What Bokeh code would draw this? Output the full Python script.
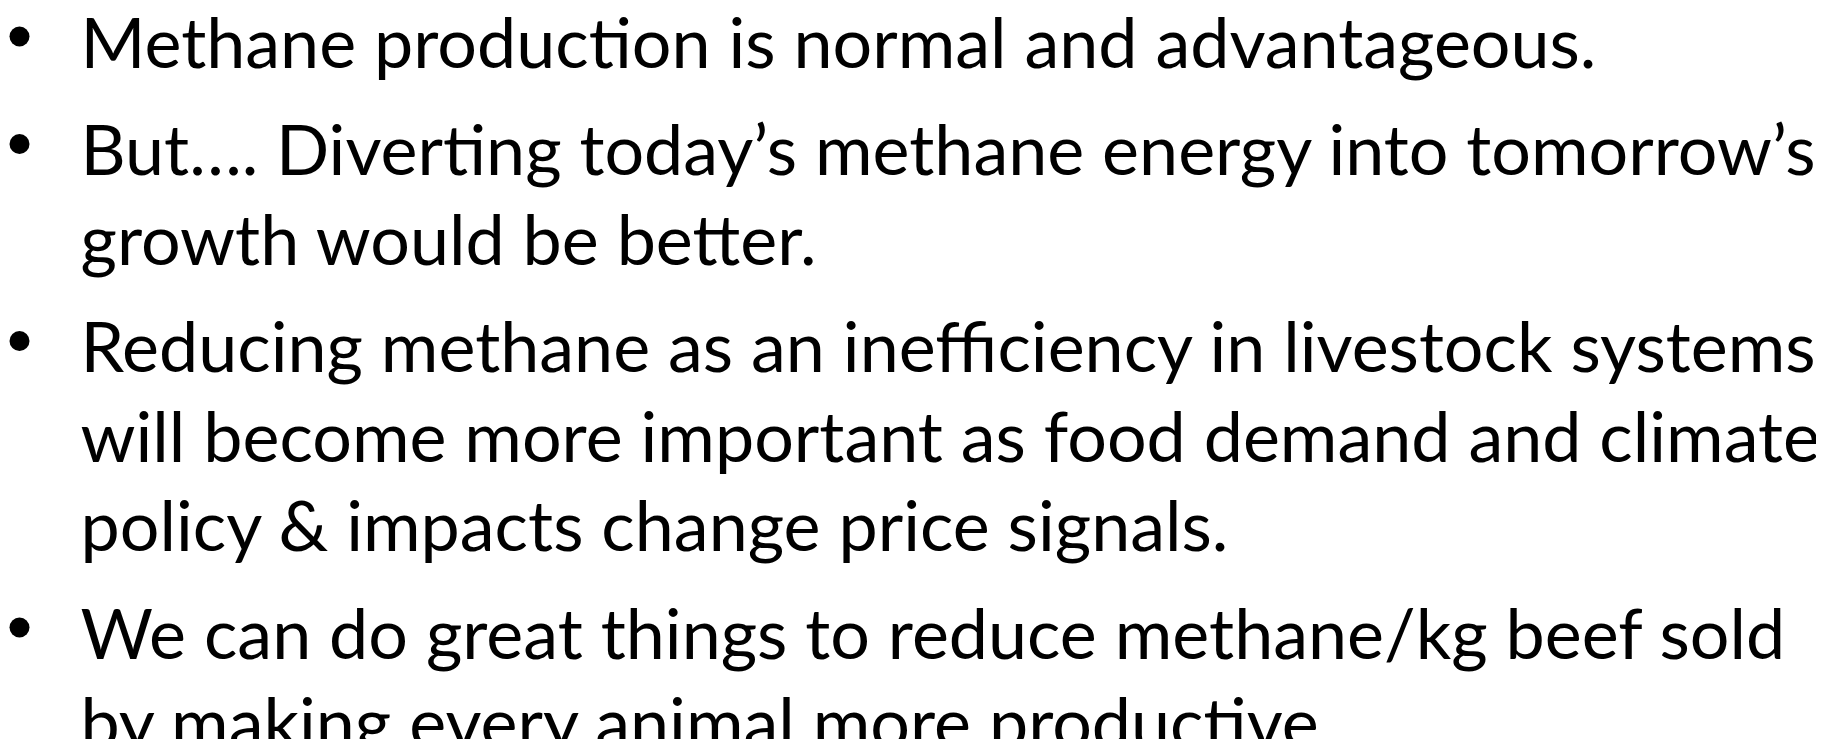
from bokeh.plotting import figure
from bokeh.models import Range1d, ColumnDataSource
from bokeh.core.properties import value
from bokeh.embed import file_html
from bokeh.resources import INLINE

# Slide content: each bullet is a list of wrapped lines
bullets = [
    ["Methane production is normal and advantageous."],
    ["But…. Diverting today’s methane energy into tomorrow’s",
     "growth would be better."],
    ["Reducing methane as an inefficiency in livestock systems",
     "will become more important as food demand and climate",
     "policy & impacts change price signals."],
    ["We can do great things to reduce methane/kg beef sold",
     "by making every animal more productive"],
]

W, H = 1816, 739
FONT = "Lato"
SIZE = 70
LINE = 89.5
PARA = 18
TOP = 66
TEXT_X = 88
TEXT_DY = -18      # correction for renderer's baseline placement
BULLET_X = 27
BULLET_RISE = 22

line_x, line_y, line_t = [], [], []
bul_x, bul_y = [], []
y = TOP
for b in bullets:
    bul_x.append(BULLET_X)
    bul_y.append(y - BULLET_RISE)
    for i, t in enumerate(b):
        line_x.append(TEXT_X)
        line_y.append(y + TEXT_DY)
        line_t.append(t)
        y += LINE
    y += PARA

p = figure(width=W, height=H, output_backend="svg", toolbar_location=None,
           x_range=Range1d(8, 8 + W), y_range=Range1d(8 + H, 8),
           x_axis_location=None, y_axis_location=None,
           min_border=0, min_border_left=0, min_border_right=0,
           min_border_top=0, min_border_bottom=0, outline_line_color=None)
p.grid.visible = False
p.background_fill_color = "white"
p.border_fill_color = "white"

src = ColumnDataSource(dict(x=line_x, y=line_y, t=line_t))
p.text(x="x", y="y", text="t", source=src, text_font=value(FONT),
       text_font_size=f"{SIZE}px", text_color="black",
       text_baseline="alphabetic", text_align="left")
bsrc = ColumnDataSource(dict(x=bul_x, y=bul_y))
p.scatter(x="x", y="y", source=bsrc, marker="circle", size=20,
          fill_color="black", line_color=None)

open("out.html", "w").write(file_html(p, INLINE))
